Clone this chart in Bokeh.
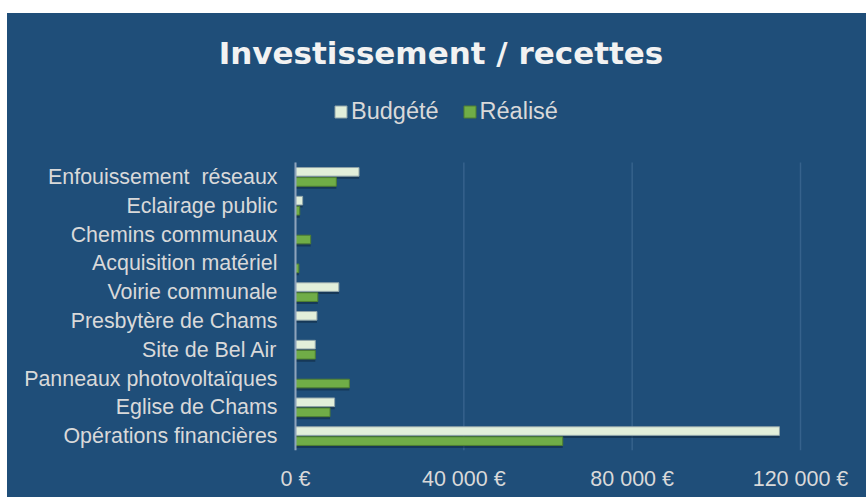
from bokeh.plotting import figure
from bokeh.models import (ColumnDataSource, Range1d, FixedTicker, Legend, LegendItem, Label)
from bokeh.transform import dodge
from bokeh.embed import file_html
from bokeh.resources import INLINE

# ---- data ----
categories = ["Enfouissement \u00a0réseaux", "Eclairage public", "Chemins communaux",
              "Acquisition matériel", "Voirie communale", "Presbytère de Chams",
              "Site de Bel Air", "Panneaux photovoltaïques", "Eglise de Chams",
              "Opérations financières"]
budgete = [15100, 1700, 0, 0, 10300, 5100, 4700, 0, 9300, 115000]
realise = [9700, 1000, 3600, 800, 5300, 0, 4700, 12800, 8200, 63500]
x_ticks = [0, 40000, 80000, 120000]
x_tick_labels = ["0 €", "40 000 €", "80 000 €", "120 000 €"]
series_names = ["Budgété", "Réalisé"]
title_text = "Investissement / recettes"

BG = "#1f4e79"
FONT = "Liberation Sans"
TEXT = "#d9d9d9"

n = len(categories)
ypos = list(range(n - 1, -1, -1))          # first category on top
source = ColumnDataSource(dict(cat=categories, y=ypos, budgete=budgete, realise=realise))

# layout geometry (pixels)
W, H = 859, 484
BOTTOM = 47
AXIS_X, SCALE_W = 288, 505                 # pixel of 0 and pixel width of 0..max tick
ROW = 28.8                                  # pixel height of one category
x_max = x_ticks[-1]
x_start = -AXIS_X / SCALE_W * x_max
x_end = (W - AXIS_X) / SCALE_W * x_max
y_end = -0.5 + (H - BOTTOM) / ROW

p = figure(width=W, height=H, output_backend="svg", toolbar_location=None,
           x_range=Range1d(x_start, x_end), y_range=Range1d(-0.5, y_end),
           min_border_left=0, min_border_right=0, min_border_top=0,
           min_border_bottom=BOTTOM)
p.styles = {"background-color": BG, "margin-left": "7px", "margin-top": "13px"}
p.background_fill_color = None
p.border_fill_color = None
p.outline_line_color = None
p.xgrid.visible = False
p.ygrid.visible = False
p.yaxis.visible = False

# vertical grid lines (category area only)
p.segment(x0=x_ticks, x1=x_ticks, y0=[-0.5] * len(x_ticks), y1=[n - 0.5] * len(x_ticks),
          line_color="#36628c", line_width=1.5)

# shadows
for field, off in (("budgete", 0.175), ("realise", -0.175)):
    p.hbar(y=dodge("y", off - 0.09), right=field, left=0, height=0.3,
           source=source, fill_color="#0b1e30", fill_alpha=0.45, line_color=None)

rb = p.hbar(y=dodge("y", 0.175), right="budgete", left=0, height=0.3,
            source=source, fill_color="#e2efda", line_color="#8fa3a8", line_width=1)
rr = p.hbar(y=dodge("y", -0.175), right="realise", left=0, height=0.3,
            source=source, fill_color="#70ad47", line_color="#4f7f32", line_width=1)

# category axis: line + labels
p.segment(x0=[0], x1=[0], y0=[-0.5], y1=[n - 0.5], line_color="#8ea3bc", line_width=2)
p.text(x=0, y="y", text="cat", source=source, x_offset=-18,
       text_align="right", text_baseline="middle",
       text_font={"value": FONT}, text_font_size={"value": "21.4px"}, text_color=TEXT)

# value axis
p.xaxis.ticker = FixedTicker(ticks=x_ticks)
p.xaxis.major_label_overrides = {t: l for t, l in zip(x_ticks, x_tick_labels)}
p.xaxis.axis_line_color = None
p.xaxis.major_tick_line_color = None
p.xaxis.major_tick_out = 0
p.xaxis.minor_tick_line_color = None
p.xaxis.major_label_text_font = FONT
p.xaxis.major_label_text_font_size = "21.5px"
p.xaxis.major_label_text_color = TEXT
p.xaxis.major_label_standoff = 16

# title
title = Label(x=433.5, y=398, x_units="screen", y_units="screen", text=title_text,
              text_font="DejaVu Sans", text_font_size="31px", text_font_style="bold",
              text_color="#f2f2f2", text_align="center", text_baseline="alphabetic")
p.add_layout(title)

legend = Legend(items=[LegendItem(label=series_names[0], renderers=[rb]),
                       LegendItem(label=series_names[1], renderers=[rr])],
                orientation="horizontal", location=(326, 325),
                background_fill_alpha=0, border_line_color=None,
                label_text_font=FONT, label_text_font_size="23.5px",
                label_text_color=TEXT, glyph_width=15, glyph_height=15,
                label_standoff=3, spacing=23, padding=0, margin=0)
p.add_layout(legend)

open("out.html", "w").write(file_html(p, INLINE))
